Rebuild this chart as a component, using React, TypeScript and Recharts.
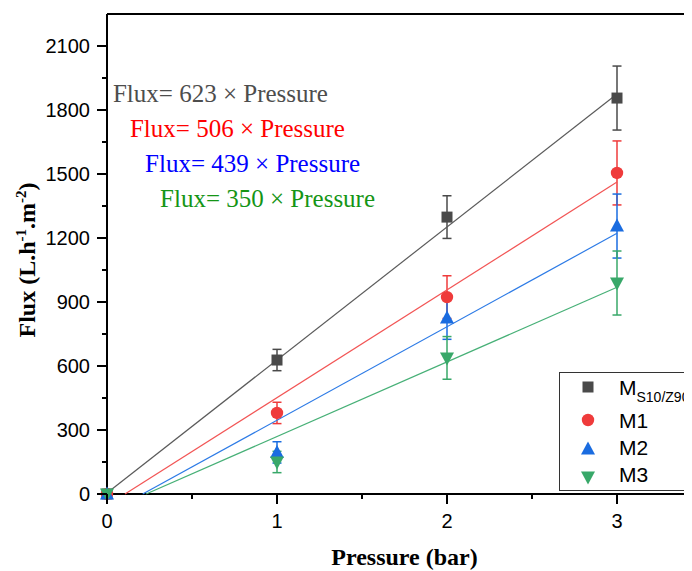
import { ScatterChart, Scatter, XAxis, YAxis, ErrorBar, ReferenceLine, ReferenceDot, Legend } from "recharts";

const pressure = [0, 1, 2, 3];
const fluxMs = [0, 628, 1298, 1856];
const fluxM1 = [0, 380, 923, 1505];
const fluxM2 = [0, 195, 825, 1256];
const fluxM3 = [0, 150, 638, 989];
const errAll = [0, 50, 100, 150];

// fitted lines: [start, end] in data units
const fitMsX = [0, 3];
const fitMsY = [5, 1875];
const fitM1X = [0.106, 3];
const fitM1Y = [0, 1462];
const fitM2X = [0.21, 3];
const fitM2Y = [0, 1222];
const fitM3X = [0.23, 3];
const fitM3Y = [0, 969];

const slopes = [623, 506, 439, 350];
const labelAnchorX = [0.035, 0.135, 0.224, 0.312];
const labelAnchorY = [1880, 1716, 1552, 1388];

const xTicks = [0, 0.5, 1, 1.5, 2, 2.5, 3, 3.5];
const yTicks = [0, 150, 300, 450, 600, 750, 900, 1050, 1200, 1350, 1500, 1650, 1800, 1950, 2100];

const SANS = "Arial, 'Liberation Sans', sans-serif";
const SERIF = "'Liberation Serif', 'Times New Roman', serif";

const toPoints = (ys: number[]) => pressure.map((x, i) => ({ x, y: ys[i], err: errAll[i] }));
const toLine = (xs: number[], ys: number[]) => xs.map((x, i) => ({ x, y: ys[i] }));

const Square = (p: any) => <rect x={p.cx - 5.5} y={p.cy - 5.5} width={11} height={11} fill={p.fill} />;
const Dot = (p: any) => <circle cx={p.cx} cy={p.cy} r={6.2} fill={p.fill} />;
const Up = (p: any) => (
  <path d={`M${p.cx},${p.cy - 7.5}L${p.cx + 7},${p.cy + 5.5}L${p.cx - 7},${p.cy + 5.5}Z`} fill={p.fill} />
);
const Down = (p: any) => (
  <path d={`M${p.cx},${p.cy + 7.5}L${p.cx + 7},${p.cy - 5.5}L${p.cx - 7},${p.cy - 5.5}Z`} fill={p.fill} />
);

const series = [
  { name: "MS10/Z90", data: toPoints(fluxMs), fit: toLine(fitMsX, fitMsY), color: "#4a4a4a", line: "#5a5a5a", text: "#4d4d4d", shape: Square },
  { name: "M1", data: toPoints(fluxM1), fit: toLine(fitM1X, fitM1Y), color: "#ef3b3b", line: "#f25555", text: "#ff0000", shape: Dot },
  { name: "M2", data: toPoints(fluxM2), fit: toLine(fitM2X, fitM2Y), color: "#1a6ce0", line: "#2d7be6", text: "#0000ff", shape: Up },
  { name: "M3", data: toPoints(fluxM3), fit: toLine(fitM3X, fitM3Y), color: "#38a869", line: "#47b077", text: "#159515", shape: Down },
];

function YTick({ x, y, payload }: any) {
  const major = payload.value % 300 === 0;
  return (
    <g>
      <line x1={x} x2={x - (major ? 10 : 5)} y1={y} y2={y} stroke="#000" strokeWidth={2} />
      {major && (
        <text x={x - 17} y={y} dy="0.36em" textAnchor="end" fontSize={20} fontFamily={SANS} fill="#000">
          {payload.value}
        </text>
      )}
    </g>
  );
}

function XTick({ x, y, payload }: any) {
  const major = Number.isInteger(payload.value);
  return (
    <g>
      <line x1={x} x2={x} y1={y} y2={y + (major ? 10 : 5)} stroke="#000" strokeWidth={2} />
      {major && (
        <text x={x} y={y + 34} textAnchor="middle" fontSize={20} fontFamily={SANS} fill="#000">
          {payload.value}
        </text>
      )}
    </g>
  );
}

function XTitle({ viewBox }: any) {
  return (
    <text x={viewBox.x + viewBox.width / 2} y={viewBox.y + 71} textAnchor="middle" fontSize={24} fontWeight="bold" fontFamily={SERIF} fill="#000">
      Pressure (bar)
    </text>
  );
}

function YTitle({ viewBox }: any) {
  const cx = 27;
  const cy = viewBox.y + 246;
  return (
    <text x={cx} y={cy} transform={`rotate(-90, ${cx}, ${cy})`} textAnchor="middle" fontSize={24} fontWeight="bold" fontFamily={SERIF} fill="#000">
      Flux (L.h
      <tspan dy={-9} fontSize={15}>-1</tspan>
      <tspan dy={9}>.m</tspan>
      <tspan dy={-9} fontSize={15}>-2</tspan>
      <tspan dy={9}>)</tspan>
    </text>
  );
}

function fitLabel(text: string, color: string) {
  return ({ viewBox }: any) => (
    <text x={viewBox.x} y={viewBox.y + 9} fontSize={25} fontFamily={SERIF} fill={color}>
      {text}
    </text>
  );
}

function LegendBox() {
  const rows = [15, 48, 77, 105];
  const base = [23, 56, 83, 110];
  return (
    <svg width={160} height={120} style={{ display: "block" }}>
      <rect x={0.5} y={0.5} width={170} height={118} fill="#fff" stroke="#333" strokeWidth={1} />
      {series.map((s, i) => {
        const Shape = s.shape;
        return (
          <g key={s.name}>
            <Shape cx={29} cy={rows[i]} fill={s.color} />
            <text x={60} y={base[i]} fontSize={21} fontFamily={SANS} fill="#000">
              {i === 0 ? (
                <>
                  M<tspan dy={7} fontSize={14}>S10/Z90</tspan>
                </>
              ) : (
                s.name
              )}
            </text>
          </g>
        );
      })}
    </svg>
  );
}

export default function App() {
  return (
    <div style={{ width: 684, height: 563, overflow: "hidden" }}>
      <ScatterChart width={694} height={563} margin={{ top: 6, right: 0, bottom: 0, left: 0 }}>
        <XAxis
          type="number"
          dataKey="x"
          domain={[0, 3.5]}
          ticks={xTicks}
          interval={0}
          height={77}
          tickSize={0}
          tickMargin={0}
          tickLine={false}
          tick={<XTick />}
          axisLine={{ stroke: "#000", strokeWidth: 2 }}
          label={XTitle}
        />
        <YAxis
          type="number"
          dataKey="y"
          domain={[0, 2250]}
          ticks={yTicks}
          interval={0}
          width={99}
          tickSize={0}
          tickMargin={0}
          tickLine={false}
          tick={<YTick />}
          axisLine={{ stroke: "#000", strokeWidth: 2 }}
          label={YTitle}
        />
        <ReferenceLine y={2250} stroke="#000" strokeWidth={2} />
        {series.map((s) => (
          <Scatter
            key={`fit-${s.name}`}
            data={s.fit}
            line={{ stroke: s.line, strokeWidth: 1.2 }}
            shape={() => <g />}
            legendType="none"
            isAnimationActive={false}
          />
        ))}
        {series.map((s) => (
          <Scatter key={s.name} name={s.name} data={s.data} fill={s.color} shape={s.shape} isAnimationActive={false}>
            <ErrorBar dataKey="err" direction="y" width={4.5} stroke={s.color} strokeWidth={1.5} />
          </Scatter>
        ))}
        {series.map((s, i) => (
          <ReferenceDot
            key={`lbl-${s.name}`}
            x={labelAnchorX[i]}
            y={labelAnchorY[i]}
            r={0}
            fill="none"
            stroke="none"
            label={fitLabel(`Flux= ${slopes[i]} × Pressure`, s.text)}
          />
        ))}
        <Legend
          layout="vertical"
          align="center"
          verticalAlign="middle"
          content={<LegendBox />}
          wrapperStyle={{ left: 551, top: 364, width: 160, height: 120 }}
        />
      </ScatterChart>
    </div>
  );
}
